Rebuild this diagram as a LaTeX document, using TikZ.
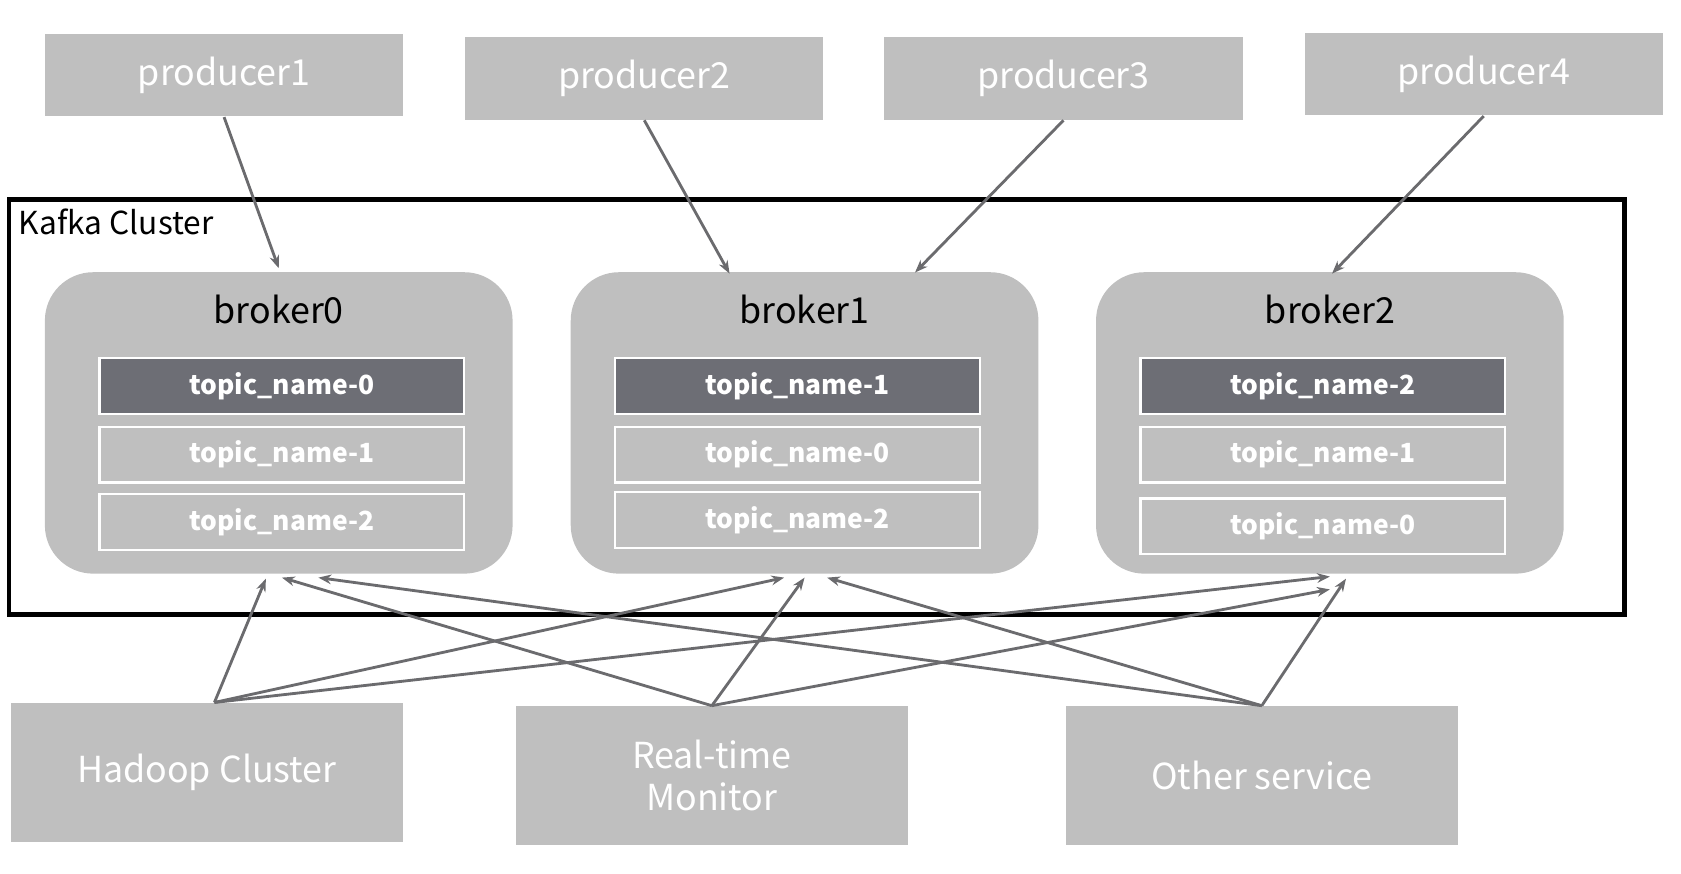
\documentclass[tikz,border=0pt]{standalone}
\usepackage{fontspec}
\setmainfont{Noto Sans CJK SC}
\usetikzlibrary{arrows.meta,calc}

\definecolor{boxgray}{HTML}{BFBFBF}
\definecolor{leadergray}{HTML}{6D6E75}
\definecolor{linkgray}{HTML}{6B6B6E}

\tikzset{
  producer/.style={fill=boxgray, minimum width=3.34cm, minimum height=0.77cm, inner sep=0pt, text=white, font=\fontsize{9.5}{11}\selectfont},
  broker/.style={fill=boxgray, rounded corners=0.45cm, minimum width=4.36cm, minimum height=2.81cm, inner sep=0pt},
  brokername/.style={font=\fontsize{9.5}{11}\selectfont},
  replica/.style={draw=white, line width=0.6pt, fill=boxgray, minimum width=3.4cm, minimum height=0.52cm, inner sep=0pt, text=white, font=\bfseries\fontsize{7}{9}\selectfont},
  leader/.style={replica, fill=leadergray},
  client/.style={fill=boxgray, minimum width=3.66cm, minimum height=1.29cm, inner sep=0pt, text=white, align=center, font=\fontsize{9.5}{11.2}\selectfont},
  link/.style={draw=linkgray, line width=0.75pt, -{Stealth[length=1.2mm, width=0.9mm]}}
}

\begin{document}
\begin{tikzpicture}[x=0.01cm, y=-0.01cm]
    \useasboundingbox (0,0) rectangle (1568,815);

    % Producers
    \node[producer] (p1) at (209,70) {producer1};
    \node[producer] (p2) at (601,73) {producer2};
    \node[producer] (p3) at (992,73) {producer3};
    \node[producer] (p4) at (1384,69) {producer4};

    % Kafka cluster frame
    \node[draw, line width=1.2pt, minimum width=15.06cm, minimum height=3.87cm, inner sep=0pt] (cluster) at (762,379.5) {};
    \node[anchor=west, inner sep=0pt, font=\fontsize{8.4}{10}\selectfont] (clustername) at (17,207) {Kafka Cluster};

    % Brokers
    \node[broker] (b0) at (260,394.5) {};
    \node[broker] (b1) at (750.5,394.5) {};
    \node[broker] (b2) at (1240.5,394.5) {};
    \node[brokername] (b0name) at ($(b0.north)+(0,35)$) {broker0};
    \node[brokername] (b1name) at ($(b1.north)+(0,35)$) {broker1};
    \node[brokername] (b2name) at ($(b2.north)+(0,35)$) {broker2};

    % Partitions (leader on top)
    \node[leader] (t00) at (263,360) {topic\_name-0};
    \node[replica] (t01) at (263,424) {topic\_name-1};
    \node[replica] (t02) at (263,487) {topic\_name-2};
    \node[leader] (t11) at (744,360) {topic\_name-1};
    \node[replica] (t10) at (744,424) {topic\_name-0};
    \node[replica] (t12) at (744,485) {topic\_name-2};
    \node[leader] (t22) at (1234,360) {topic\_name-2};
    \node[replica] (t21) at (1234,424) {topic\_name-1};
    \node[replica] (t20) at (1234,491) {topic\_name-0};

    % Consumers
    \node[client] (hadoop) at (193,720.5) {Hadoop Cluster};
    \node[client] (monitor) at (664,723.5) {Real-time\\Monitor};
    \node[client] (other) at (1177,723.5) {Other service};

    % Producer links
    \draw[link] (p1.south) -- ($(b0.north)+(0,-3)$);
    \draw[link] (p2.south) -- ($(b1.north)+(-70,2)$);
    \draw[link] (p3.south) -- ($(b1.north)+(103,1)$);
    \draw[link] (p4.south) -- ($(b2.north)+(2,2)$);

    % Consumer links
    \draw[link] ($(hadoop.north)+(7,0)$) -- ($(b0.south)+(-12,4)$);
    \draw[link] ($(hadoop.north)+(7,0)$) -- ($(b1.south)+(-19,3)$);
    \draw[link] ($(hadoop.north)+(7,0)$) -- ($(b2.south)+(0,2)$);
    \draw[link] (monitor.north) -- ($(b0.south)+(3,3)$);
    \draw[link] (monitor.north) -- ($(b1.south)+(0,3)$);
    \draw[link] (monitor.north) -- ($(b2.south)+(0,14)$);
    \draw[link] (other.north) -- ($(b0.south)+(37,3)$);
    \draw[link] (other.north) -- ($(b1.south)+(21,3)$);
    \draw[link] (other.north) -- ($(b2.south)+(15,4)$);

\end{tikzpicture}
\end{document}
